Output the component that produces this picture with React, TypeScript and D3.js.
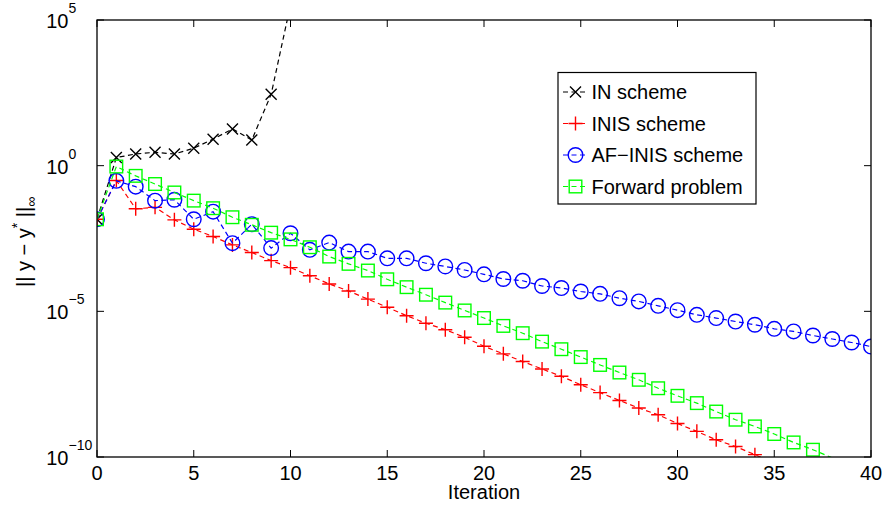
import React from "react";
import * as d3 from "d3";

// Iteration index 0..n ; values are log10(||y - y*||_inf)
const inLog10 = [-1.84, 0.28, 0.40, 0.46, 0.40, 0.60, 0.91, 1.26, 0.88, 2.45, 5.52];
const inisLog10 = [-1.84, -0.51, -1.48, -1.43, -1.86, -2.18, -2.43, -2.72, -2.98, -3.26, -3.50, -3.78, -4.06, -4.30, -4.58, -4.86, -5.15, -5.41, -5.63, -5.89, -6.20, -6.46, -6.72, -6.98, -7.23, -7.52, -7.79, -8.06, -8.32, -8.55, -8.85, -9.12, -9.41, -9.64, -9.92, -10.2];
const afinisLog10 = [-1.84, -0.52, -0.72, -1.20, -1.17, -1.84, -1.58, -2.66, -2.01, -2.83, -2.32, -2.89, -2.64, -2.95, -2.95, -3.18, -3.18, -3.35, -3.46, -3.58, -3.73, -3.89, -3.95, -4.13, -4.20, -4.32, -4.40, -4.55, -4.66, -4.81, -4.96, -5.12, -5.23, -5.35, -5.46, -5.60, -5.69, -5.83, -5.95, -6.07, -6.21];
const forwardLog10 = [-1.84, -0.03, -0.35, -0.63, -0.92, -1.20, -1.46, -1.77, -2.03, -2.30, -2.53, -2.80, -3.12, -3.37, -3.60, -3.90, -4.17, -4.43, -4.70, -4.97, -5.23, -5.50, -5.75, -6.04, -6.30, -6.57, -6.84, -7.10, -7.35, -7.64, -7.90, -8.15, -8.44, -8.72, -8.95, -9.21, -9.50, -9.75, -10.03, -10.3];

const seriesNames = ["IN scheme", "INIS scheme", "AF\u2212INIS scheme", "Forward problem"];
const seriesColors = ["#000000", "#ff0000", "#0000ff", "#00ff00"];
const seriesMarkers = ["x", "+", "o", "s"];
const seriesData = [inLog10, inisLog10, afinisLog10, forwardLog10];

const xTicks = [0, 5, 10, 15, 20, 25, 30, 35, 40];
const yTickExps = [5, 0, -5, -10];

const W = 886, H = 506;
const left = 97, right = 871, top = 20, bottom = 457;
const FONT = "'Liberation Sans', Arial, Helvetica, sans-serif";

function Marker({ type, x, y, color }: { type: string; x: number; y: number; color: string }) {
  const sw = 1.4;
  if (type === "x") {
    const s = 5.5;
    return <path d={`M${x - s},${y - s}L${x + s},${y + s}M${x - s},${y + s}L${x + s},${y - s}`} stroke={color} strokeWidth={sw} fill="none" />;
  }
  if (type === "+") {
    const s = 7;
    return <path d={`M${x - s},${y}L${x + s},${y}M${x},${y - s}L${x},${y + s}`} stroke={color} strokeWidth={sw} fill="none" />;
  }
  if (type === "o") {
    return <circle cx={x} cy={y} r={7.3} stroke={color} strokeWidth={sw} fill="none" />;
  }
  const h = 6.3;
  return <rect x={x - h} y={y - h} width={2 * h} height={2 * h} stroke={color} strokeWidth={sw} fill="none" />;
}

export default function App() {
  const x = d3.scaleLinear().domain([0, 40]).range([left, right]);
  const y = d3.scaleLog().domain([1e-10, 1e5]).range([bottom, top]);
  const line = d3
    .line<number>()
    .x((_, i) => x(i))
    .y((d) => y(Math.pow(10, d)));

  return (
    <svg width={W} height={H} style={{ position: "absolute", left: 0, top: 0, background: "#fff" }} fontFamily={FONT}>
      <defs>
        <clipPath id="plotClip">
          <rect x={left} y={top} width={right - left} height={bottom - top} />
        </clipPath>
      </defs>
      <rect x={0} y={0} width={W} height={H} fill="#fff" />

      {/* series */}
      <g clipPath="url(#plotClip)">
        {seriesData.map((data, si) => (
          <g key={si}>
            <path d={line(data) || ""} fill="none" stroke={seriesColors[si]} strokeWidth={1.2} strokeDasharray="5,3.5" />
            {data.map((d, i) => {
              const py = y(Math.pow(10, d));
              if (py < top - 0.5 || py > bottom + 0.5) return null;
              return <Marker key={i} type={seriesMarkers[si]} x={x(i)} y={py} color={seriesColors[si]} />;
            })}
          </g>
        ))}
      </g>

      {/* frame */}
      <rect x={left} y={top} width={right - left} height={bottom - top} fill="none" stroke="#000" strokeWidth={1.3} />

      {/* x ticks */}
      {xTicks.map((t) => (
        <g key={t}>
          <line x1={x(t)} x2={x(t)} y1={bottom} y2={bottom - 7} stroke="#000" strokeWidth={1} />
          <line x1={x(t)} x2={x(t)} y1={top} y2={top + 7} stroke="#000" strokeWidth={1} />
          <text x={x(t)} y={479.5} textAnchor="middle" fontSize={20}>{t}</text>
        </g>
      ))}

      {/* y ticks */}
      {yTickExps.map((e) => {
        const py = y(Math.pow(10, e));
        return (
          <g key={e}>
            <line x1={left} x2={left + 7} y1={py} y2={py} stroke="#000" strokeWidth={1} />
            <line x1={right} x2={right - 7} y1={py} y2={py} stroke="#000" strokeWidth={1} />
            <text x={68.5} y={py + 8} textAnchor="end" fontSize={20}>10</text>
            <text x={68.5} y={py - 7} textAnchor="start" fontSize={14}>{e < 0 ? "\u2212" + Math.abs(e) : String(e)}</text>
          </g>
        );
      })}

      {/* axis labels */}
      <text x={(left + right) / 2} y={499} textAnchor="middle" fontSize={20}>Iteration</text>
      <text transform="translate(31,287) rotate(-90)" fontSize={20}>
        <tspan>|| y − y</tspan>
        <tspan fontSize={14} dy={-9}>*</tspan>
        <tspan dy={9}> ||</tspan>
        <tspan fontSize={14} dy={5}>∞</tspan>
      </text>

      {/* legend */}
      <rect x={558} y={72.5} width={198} height={131.5} fill="#fff" stroke="#000" strokeWidth={1.2} />
      {seriesNames.map((name, si) => {
        const cy = 92 + si * 31.5;
        return (
          <g key={name}>
            <line x1={563} x2={588} y1={cy} y2={cy} stroke={seriesColors[si]} strokeWidth={1.2} strokeDasharray="5,3.5" />
            <Marker type={seriesMarkers[si]} x={575.5} y={cy} color={seriesColors[si]} />
            <text x={591.5} y={cy + 7} fontSize={20}>{name}</text>
          </g>
        );
      })}
    </svg>
  );
}
